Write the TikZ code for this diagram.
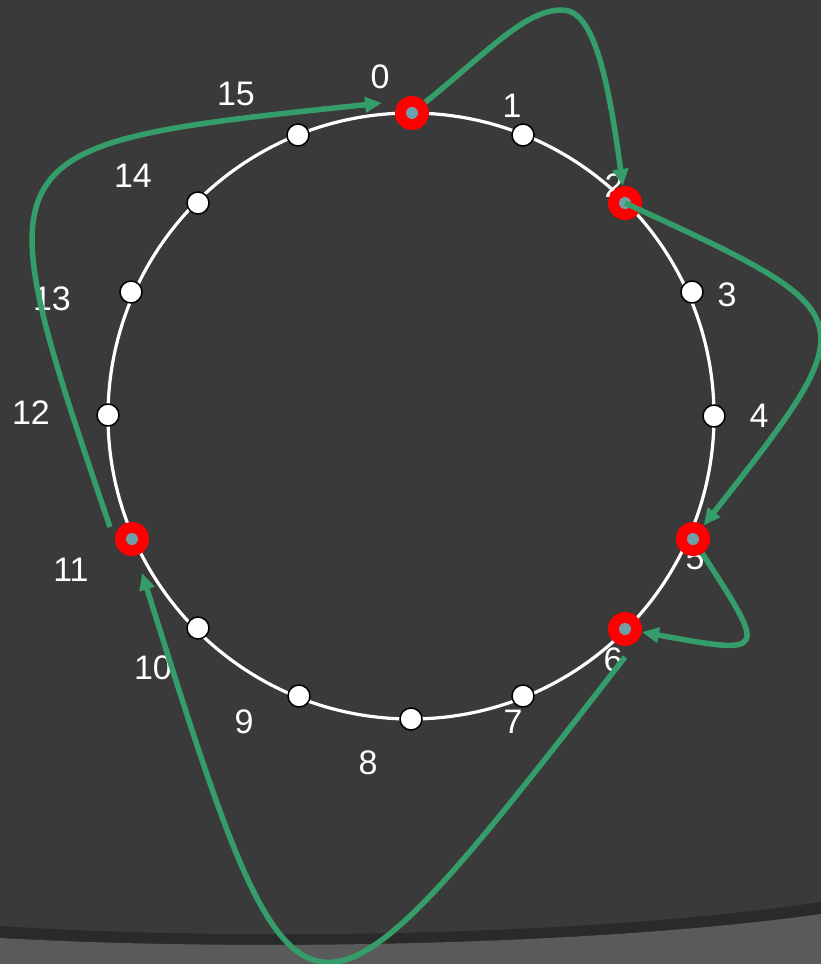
\documentclass[tikz,border=0pt]{standalone}
\usepackage{fontspec}
\setmainfont{Liberation Sans}
\usetikzlibrary{arrows.meta}
\definecolor{bgdark}{HTML}{3A3A3A}
\definecolor{floorgray}{HTML}{5A5A5A}
\definecolor{floorshade}{HTML}{2A2A2A}
\definecolor{hopgreen}{HTML}{349D69}
\definecolor{hopred}{HTML}{FF0000}
\definecolor{dotteal}{HTML}{6E9FAB}

\begin{document}
\begin{tikzpicture}[x=1pt, y=1pt, >={Triangle[length=17pt, width=15pt]},
  idnode/.style={circle, fill=white, draw=black, line width=1.5pt,
    minimum size=22pt, inner sep=0pt},
  hopnode/.style={circle, fill=hopred, minimum size=34pt, inner sep=0pt,
    path picture={\fill[dotteal] (path picture bounding box.center) circle (6pt);}},
  idlabel/.style={text=white, inner sep=0pt, font=\fontsize{34}{40}\selectfont},
  hop/.style={hopgreen, line width=5.5pt, ->}]

\useasboundingbox (0,0) rectangle (821,-964);

% Background
\fill[bgdark] (0,0) rectangle (821,-964);

% Floor at the bottom
\fill[floorshade] (0,-926) .. controls (250,-942) and (600,-935) .. (821,-902)
  -- (821,-964) -- (0,-964) -- cycle;
\fill[floorgray] (0,-938) .. controls (250,-952) and (600,-945) .. (821,-914)
  -- (821,-964) -- (0,-964) -- cycle;

% Ring
\draw[white, line width=3.2pt] (411,-416) circle (303);

% Identifier labels
\node[idlabel] (l0) at (380,-77) {0};
\node[idlabel] (l1) at (512,-106) {1};
\node[idlabel] (l2) at (614,-186) {2};
\node[idlabel] (l3) at (727,-295) {3};
\node[idlabel] (l4) at (759,-416) {4};
\node[idlabel] (l5) at (695,-558) {5};
\node[idlabel] (l6) at (613,-660) {6};
\node[idlabel] (l7) at (513,-722) {7};
\node[idlabel] (l8) at (368,-763) {8};
\node[idlabel] (l9) at (244,-722) {9};
\node[idlabel] (l10) at (153,-668) {10};
\node[idlabel] (l11) at (71,-570) {11};
\node[idlabel] (l12) at (31,-413) {12};
\node[idlabel] (l13) at (52,-299) {13};
\node[idlabel] (l14) at (133,-176) {14};
\node[idlabel] (l15) at (236,-94) {15};

% Ring positions (red = live nodes)
\node[hopnode] (n0) at (412,-113) {};
\node[idnode] (n1) at (523,-135) {};
\node[hopnode] (n2) at (625,-203) {};
\node[idnode] (n3) at (692,-292) {};
\node[idnode] (n4) at (714,-416) {};
\node[hopnode] (n5) at (693,-539) {};
\node[hopnode] (n6) at (625,-629) {};
\node[idnode] (n7) at (523,-696) {};
\node[idnode] (n8) at (411,-719) {};
\node[idnode] (n9) at (299,-696) {};
\node[idnode] (n10) at (198,-628) {};
\node[hopnode] (n11) at (132,-539) {};
\node[idnode] (n12) at (108,-415) {};
\node[idnode] (n13) at (131,-292) {};
\node[idnode] (n14) at (198,-203) {};
\node[idnode] (n15) at (298,-135) {};

% Free ends of the long hops
\coordinate (top02) at (562,-10);
\coordinate (d6) at (625,-657);
\coordinate (a11) at (142,-573);
\coordinate (d11) at (110,-527);
\coordinate (a0) at (382,-103);

% Successor hops
\draw[hop] (n0) .. controls (490,-50) and (525,-10) .. (top02)
  .. controls (590,-10) and (606,-60) .. (n2);
\draw[hop] (n2.center) .. controls (869,-315) and (869,-315) .. (n5);
\draw[hop] (n5) .. controls (768,-655) and (768,-655) .. (n6);
\draw[hop] (d6) .. controls (300,-1075) and (300,-1075) .. (a11);
\draw[hop] (d11) .. controls (-20,-145) and (-20,-145) .. (a0);

\end{tikzpicture}
\end{document}
